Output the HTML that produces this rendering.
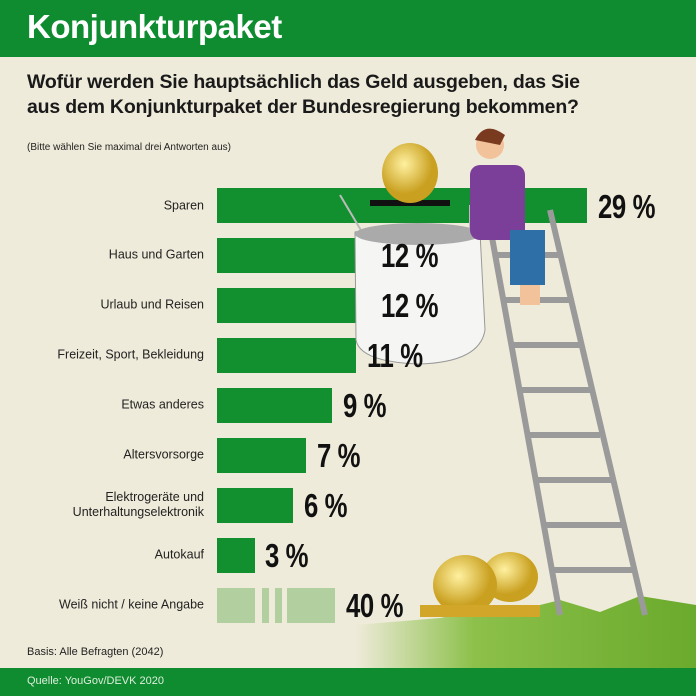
<!DOCTYPE html>
<html><head><meta charset="utf-8"><style>
body{margin:0;width:696px;height:696px;overflow:hidden;background:#efebda;font-family:"Liberation Sans",sans-serif;position:relative}
.a{position:absolute}
.lbl{position:absolute;right:492px;font-size:12.5px;color:#222;text-align:right;line-height:15px;transform:translateY(-50%)}
.bar{position:absolute;left:217px;height:35px;background:#12902f}
.pct{position:absolute;z-index:3;font-family:"Liberation Sans Narrow","Liberation Sans",sans-serif;font-weight:bold;font-size:33px;color:#111;transform:translateY(-50%) scaleX(0.78);transform-origin:left center;letter-spacing:-0.5px}
</style></head><body>
<div class="a" style="left:0;top:0;width:696px;height:57px;background:#0f8c30"></div>
<div class="a" style="left:27px;top:8px;font-size:33px;font-weight:bold;color:#fff;letter-spacing:-0.5px">Konjunkturpaket</div>
<div class="a" style="left:27px;top:70px;font-size:19.5px;font-weight:bold;color:#1a1a1a;line-height:25px;letter-spacing:-0.2px">Wofür werden Sie hauptsächlich das Geld ausgeben, das Sie<br>aus dem Konjunkturpaket der Bundesregierung bekommen?</div>
<div class="a" style="left:27px;top:142px;font-size:10px;color:#222">(Bitte wählen Sie maximal drei Antworten aus)</div>
<div class="lbl" style="top:206px">Sparen</div>
<div class="bar" style="top:188px;width:370px"></div>
<div class="lbl" style="top:255px">Haus und Garten</div><div class="bar" style="top:238px;width:153px"></div>
<div class="lbl" style="top:305px">Urlaub und Reisen</div><div class="bar" style="top:288px;width:153px"></div>
<div class="lbl" style="top:355px">Freizeit, Sport, Bekleidung</div><div class="bar" style="top:338px;width:139px"></div>
<div class="lbl" style="top:405px">Etwas anderes</div><div class="bar" style="top:388px;width:115px"></div>
<div class="lbl" style="top:455px">Altersvorsorge</div><div class="bar" style="top:438px;width:89px"></div>
<div class="lbl" style="top:505px">Elektrogeräte und<br>Unterhaltungselektronik</div><div class="bar" style="top:488px;width:76px"></div>
<div class="lbl" style="top:555px">Autokauf</div><div class="bar" style="top:538px;width:38px"></div>
<div class="lbl" style="top:605px">Weiß nicht / keine Angabe</div>
<div class="bar" style="top:588px;width:38px;background:#b2cf9f"></div>
<div class="bar" style="top:588px;left:262px;width:7px;background:#b2cf9f"></div>
<div class="bar" style="top:588px;left:275px;width:7px;background:#b2cf9f"></div>
<div class="bar" style="top:588px;left:287px;width:48px;background:#b2cf9f"></div>
<svg class="a" style="left:0;top:0;z-index:2" width="696" height="696">
<defs><linearGradient id="g" x1="0" x2="1"><stop offset="0" stop-color="#efebda"/><stop offset="0.35" stop-color="#8cc04a"/><stop offset="1" stop-color="#6aaa2c"/></linearGradient>
<radialGradient id="c" cx="0.4" cy="0.35"><stop offset="0" stop-color="#fff1a0"/><stop offset="1" stop-color="#c9a020"/></radialGradient></defs>
<path d="M355 625 L440 618 L470 612 L520 610 L560 600 L600 612 L640 596 L696 605 L696 668 L355 668 Z" fill="url(#g)"/>
<g stroke="#9a9a9a" stroke-width="6" fill="none">
<line x1="488" y1="215" x2="560" y2="615"/><line x1="550" y1="210" x2="645" y2="615"/>
<line x1="495" y1="255" x2="560" y2="255"/><line x1="503" y1="300" x2="570" y2="300"/><line x1="512" y1="345" x2="580" y2="345"/><line x1="520" y1="390" x2="590" y2="390"/><line x1="528" y1="435" x2="600" y2="435"/><line x1="536" y1="480" x2="612" y2="480"/><line x1="545" y1="525" x2="622" y2="525"/><line x1="553" y1="570" x2="632" y2="570"/>
</g>
<line x1="340" y1="195" x2="362" y2="232" stroke="#bbb" stroke-width="2"/><line x1="470" y1="205" x2="470" y2="232" stroke="#bbb" stroke-width="2"/>
<path d="M355 232 Q420 218 480 232 L485 330 Q480 362 420 364 Q360 362 356 340 Z" fill="#f5f5f3" stroke="#999"/>
<ellipse cx="418" cy="234" rx="63" ry="11" fill="#aaa"/>
<rect x="470" y="165" width="55" height="75" fill="#7b3f9a" rx="10"/>
<rect x="510" y="230" width="35" height="55" fill="#2f6fa8"/>
<circle cx="490" cy="145" r="14" fill="#f2c29a"/><path d="M475 140 Q485 120 505 135 L500 145 Z" fill="#7a3a20"/>
<rect x="520" y="285" width="20" height="20" fill="#f2c29a"/>
<rect x="370" y="200" width="80" height="6" fill="#111"/>
<ellipse cx="410" cy="173" rx="28" ry="30" fill="url(#c)"/>
<ellipse cx="510" cy="577" rx="28" ry="25" fill="url(#c)"/>
<ellipse cx="465" cy="585" rx="32" ry="30" fill="url(#c)"/>
<rect x="420" y="605" width="120" height="12" fill="#d2a628"/>
</svg>
<div class="pct" style="left:598px;top:207px">29 %</div>
<div class="pct" style="left:381px;top:256px">12 %</div>
<div class="pct" style="left:381px;top:306px">12 %</div>
<div class="pct" style="left:367px;top:356px">11 %</div>
<div class="pct" style="left:343px;top:406px">9 %</div>
<div class="pct" style="left:317px;top:456px">7 %</div>
<div class="pct" style="left:304px;top:506px">6 %</div>
<div class="pct" style="left:265px;top:556px">3 %</div>
<div class="pct" style="left:346px;top:606px">40 %</div>
<div class="a" style="left:27px;top:646px;font-size:11px;color:#222">Basis: Alle Befragten (2042)</div>
<div class="a" style="left:0;top:668px;width:696px;height:28px;background:#0f8c30;z-index:3"></div>
<div class="a" style="left:27px;top:675px;font-size:11px;color:#dfeedd;z-index:4">Quelle: YouGov/DEVK 2020</div>
</body></html>
